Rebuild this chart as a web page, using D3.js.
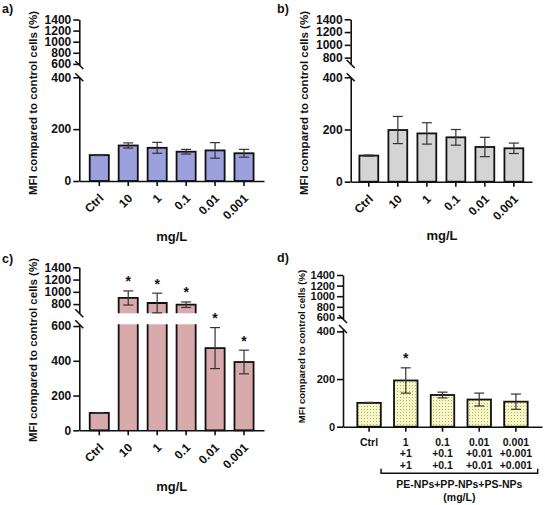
<!DOCTYPE html>
<html><head><meta charset="utf-8">
<script src="https://cdn.jsdelivr.net/npm/d3@7"></script>
<style>
body{margin:0;background:#fff;}
text{font-family:"Liberation Sans",Arial,sans-serif;font-weight:bold;fill:#111;}
</style></head>
<body>
<script>
// ---------- data ----------
const catsABC = ["Ctrl","10","1","0.1","0.01","0.001"];
const meanA = [100,137,128,113,118,107];
const errA  = [2,10,21,9,30,15];
const meanB = [100,198,185,170,133,128];
const errB  = [2,52,41,30,37,20];
const meanC = [100,900,818,790,473,393];
const errC  = [2,115,160,45,118,68];
const sigC  = [false,true,true,true,true,true];
const catsD = [["Ctrl"],["1","+1","+1"],["0.1","+0.1","+0.1"],["0.01","+0.01","+0.01"],["0.001","+0.001","+0.001"]];
const meanD = [100,194,133,114,105];
const errD  = [2,53,12,27,32];
const sigD  = [false,true,false,false,false];
const ticksLowAB = [0,200,400];
const ticksHighA = [600,800,1000,1200,1400];
const ticksHighB = [800,1000,1200,1400];
const ticksLowC = [0,200,400,600];
const ticksHighC = [800,1000,1200,1400];
const ticksLowD = [0,200,400];
const ticksHighD = [600,800,1000,1200,1400];
const yTitle = "MFI compared to control cells (%)";
const xTitle = "mg/L";
const dGroupTitle = ["PE-NPs+PP-NPs+PS-NPs","(mg/L)"];

const svg = d3.select("body").append("svg").attr("width",545).attr("height",505);
const defs = svg.append("defs");
const pat = defs.append("pattern").attr("id","dots").attr("width",3).attr("height",3)
  .attr("patternUnits","userSpaceOnUse");
pat.append("rect").attr("width",3).attr("height",3).attr("fill","#f6f6c6");
pat.append("rect").attr("x",1).attr("y",1).attr("width",1).attr("height",1).attr("fill","#b3b36c");

const fmt = d3.format("d");

function drawPanel(p){
  const g = svg.append("g");
  const n = p.means.length;
  const x = d3.scaleBand().domain(d3.range(n)).range([p.ax,p.xEnd]).paddingInner(p.pi).paddingOuter(p.po);
  const yl = d3.scaleLinear().domain(p.lowDom).range(p.lowRng);
  const yh = d3.scaleLinear().domain(p.highDom).range(p.highRng);
  const y0 = p.lowRng[0];
  const lowTop = p.lowRng[1], highBot = p.highRng[0];
  const yv = v => v <= p.lowDom[1] ? yl(v) : yh(Math.max(v,p.highDom[0]));

  // bars
  p.means.forEach((v,i)=>{
    const bx = x(i), bw = x.bandwidth();
    if (v <= p.lowDom[1]) {
      g.append("rect").attr("x",bx).attr("y",yl(v)).attr("width",bw).attr("height",y0-yl(v))
        .attr("fill",p.fill).attr("stroke","#111").attr("stroke-width",1.8);
    } else {
      g.append("rect").attr("x",bx).attr("y",lowTop).attr("width",bw).attr("height",y0-lowTop).attr("fill",p.fill);
      g.append("rect").attr("x",bx).attr("y",yh(v)).attr("width",bw).attr("height",highBot-yh(v)).attr("fill",p.fill);
      g.append("path").attr("fill","none").attr("stroke","#111").attr("stroke-width",1.8)
        .attr("d",`M${bx},${y0}V${lowTop}M${bx+bw},${lowTop}V${y0}M${bx},${highBot}V${yh(v)}H${bx+bw}V${highBot}`);
    }
    // error bar
    const e = p.errs[i], cx = bx + bw/2;
    const yt = yv(v+e), yb = yv(v-e);
    const eg = g.append("g").attr("stroke","#333").attr("stroke-width",1.2);
    eg.append("line").attr("x1",cx).attr("x2",cx).attr("y1",yt).attr("y2",yb);
    eg.append("line").attr("x1",cx-5).attr("x2",cx+5).attr("y1",yt).attr("y2",yt);
    if (!(v > p.lowDom[1] && v-e < p.highDom[0]))
      eg.append("line").attr("x1",cx-5).attr("x2",cx+5).attr("y1",yb).attr("y2",yb);
    if (p.sig && p.sig[i]) {
      g.append("text").attr("x",cx).attr("y",yt-12.5+8).attr("text-anchor","middle")
        .attr("font-size",14).text("*");
    }
  });

  // y axis segments
  const axL = d3.axisLeft(yl).tickValues(p.ticksLow).tickFormat(fmt).tickSize(6).tickSizeOuter(0).tickPadding(2);
  const axH = d3.axisLeft(yh).tickValues(p.ticksHigh).tickFormat(fmt).tickSize(6).tickSizeOuter(0).tickPadding(2);
  [axL,axH].forEach(ax=>{
    const a = g.append("g").attr("transform",`translate(${p.ax},0)`).call(ax);
    a.selectAll("path,line").attr("stroke","#111").attr("stroke-width",1.6);
    a.selectAll("text").attr("font-size",p.tickFs).attr("font-family",null).attr("fill","#111");
  });
  // break marks
  [highBot,lowTop].forEach(yy=>{
    g.append("line").attr("x1",p.ax-4).attr("y1",yy-4).attr("x2",p.ax+4).attr("y2",yy+4)
      .attr("stroke","#111").attr("stroke-width",1.6);
  });
  // x axis
  const xa = g.append("g").attr("transform",`translate(0,${y0})`)
    .call(d3.axisBottom(x).tickSize(5).tickSizeOuter(0).tickFormat(""));
  xa.selectAll("path,line").attr("stroke","#111").attr("stroke-width",1.6);

  // x tick labels
  if (p.rotated) {
    p.cats.forEach((c,i)=>{
      const cx = x(i)+x.bandwidth()/2;
      g.append("text").attr("transform",`translate(${cx+5},${y0+18}) rotate(-45)`)
        .attr("text-anchor","end").attr("font-size",p.tickFs).text(c);
    });
  } else {
    p.cats.forEach((lines,i)=>{
      const cx = x(i)+x.bandwidth()/2;
      lines.forEach((l,j)=>{
        g.append("text").attr("x",cx).attr("y",y0+19+j*11.4).attr("text-anchor","middle")
          .attr("font-size",10.5).text(l);
      });
    });
  }
  // y title
  g.append("text").attr("transform",`translate(${p.yt[0]},${p.yt[1]}) rotate(-90)`)
    .attr("text-anchor","middle").attr("font-size",p.ytFs).text(yTitle);
  // panel label
  g.append("text").attr("x",p.lab[1]).attr("y",p.lab[2]).attr("font-size",12.5).text(p.lab[0]);
  // x title
  if (p.xt) g.append("text").attr("x",p.xt[0]).attr("y",p.xt[1]).attr("text-anchor","middle")
     .attr("font-size",13).text(xTitle);
  return {x,y0};
}

drawPanel({ax:79.3,xEnd:264,pi:0.34,po:0.36,means:meanA,errs:errA,fill:"#9ca0dc",
  lowDom:[0,400],lowRng:[181,77.3],highDom:[580,1400],highRng:[65,19.5],
  ticksLow:ticksLowAB,ticksHigh:ticksHighA,tickFs:12,cats:catsABC,rotated:true,
  yt:[36.8,103],ytFs:11.5,lab:["a)",2,13],xt:[171.7,240.5]});

drawPanel({ax:350.7,xEnd:532,pi:0.35,po:0.3,means:meanB,errs:errB,fill:"#d4d4d4",
  lowDom:[0,400],lowRng:[181.7,77.3],highDom:[700,1400],highRng:[64,19.3],
  ticksLow:ticksLowAB,ticksHigh:ticksHighB,tickFs:12,cats:catsABC,rotated:true,
  yt:[307.8,103],ytFs:11.5,lab:["b)",277,13],xt:[442,239.5]});

drawPanel({ax:79.3,xEnd:264,pi:0.34,po:0.36,means:meanC,errs:errC,sig:sigC,fill:"#d8aaab",
  lowDom:[0,610],lowRng:[430.3,324.3],highDom:[650,1400],highRng:[313.3,267.3],
  ticksLow:ticksLowC,ticksHigh:ticksHighC,tickFs:12,cats:catsABC,rotated:true,
  yt:[37.4,350],ytFs:11.5,lab:["c)",2,263],xt:[171.7,490.5]});

const pd = drawPanel({ax:343,xEnd:542,pi:0.36,po:0.39,means:meanD,errs:errD,sig:sigD,fill:"url(#dots)",
  lowDom:[0,410],lowRng:[426.7,329],highDom:[570,1400],highRng:[319,275],
  ticksLow:ticksLowD,ticksHigh:ticksHighD,tickFs:11,cats:catsD,rotated:false,
  yt:[304.6,346.5],ytFs:9.6,lab:["d)",277,262]});

// bracket under mixtures in d
const bx1 = pd.x(1)-13, bx2 = pd.x(4)+pd.x.bandwidth()+10;
svg.append("path").attr("fill","none").attr("stroke","#111").attr("stroke-width",1.5)
  .attr("d",`M${bx1},468.8V473.3H${bx2}V468.8`);
svg.append("text").attr("x",(bx1+bx2)/2).attr("y",488).attr("text-anchor","middle")
  .attr("font-size",10.5).text(dGroupTitle[0]);
svg.append("text").attr("x",(bx1+bx2)/2).attr("y",501).attr("text-anchor","middle")
  .attr("font-size",10.5).text(dGroupTitle[1]);
</script>
</body></html>
